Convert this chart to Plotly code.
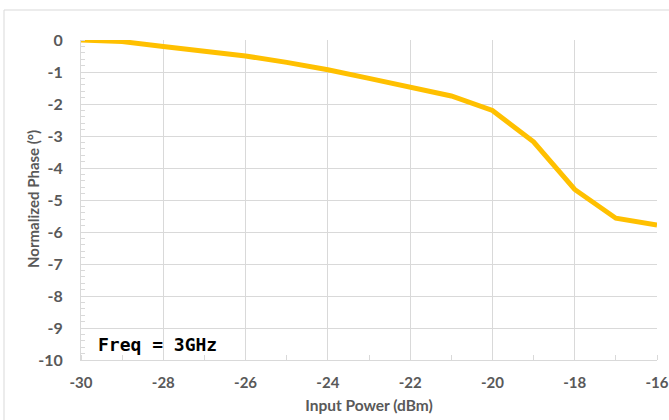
import plotly.graph_objects as go

input_power = [-30, -29, -28, -27, -26, -25, -24, -23, -22, -21, -20, -19, -18, -17, -16]
phase = [0, -0.05, -0.2, -0.35, -0.5, -0.7, -0.93, -1.2, -1.47, -1.75, -2.2, -3.18, -4.67, -5.57, -5.78]

x_ticks = [-30, -28, -26, -24, -22, -20, -18, -16]
y_ticks = [0, -1, -2, -3, -4, -5, -6, -7, -8, -9, -10]

grid = "#d9d9d9"
txt = "#595959"
font_fam = "Lato, 'Open Sans', sans-serif"

W, H = 669, 420
L, R, T, B = 81, 12, 40, 60
pw = W - L - R
ph = H - T - B

fig = go.Figure()
fig.add_trace(go.Scatter(
    x=input_power, y=phase, mode="lines",
    line=dict(color="#FFC000", width=5),
    showlegend=False, hoverinfo="skip",
))

fig.update_layout(
    width=W, height=H,
    margin=dict(l=L, r=R, t=T, b=B, autoexpand=False),
    paper_bgcolor="white", plot_bgcolor="white",
    font=dict(family=font_fam, color=txt),
    xaxis=dict(
        range=[-30, -16], tickvals=x_ticks, ticktext=[str(v) for v in x_ticks],
        automargin=False,
        showgrid=True, gridcolor=grid, gridwidth=1,
        showline=True, linecolor=grid, linewidth=1,
        zeroline=False, ticks="", ticklen=0, ticklabelstandoff=9,
        tickfont=dict(size=15, color=txt, family=font_fam, weight="bold"),
        minor=dict(dtick=1, tick0=-30, ticks="inside", ticklen=5, tickcolor=grid, showgrid=False),
        title=dict(text="Input Power (dBm)", font=dict(size=15.5, color=txt, family=font_fam, weight="bold"), standoff=10),
    ),
    yaxis=dict(
        range=[-10, 0], tickvals=y_ticks, ticktext=[str(v) for v in y_ticks],
        automargin=False,
        showgrid=True, gridcolor=grid, gridwidth=1,
        showline=True, linecolor=grid, linewidth=1,
        zeroline=False, ticks="", ticklen=0, ticklabelstandoff=14,
        tickfont=dict(size=16, color=txt, family=font_fam, weight="bold"),
        minor=dict(dtick=0.2, tick0=0, ticks="inside", ticklen=4, tickcolor=grid, showgrid=False),
    ),
    annotations=[
        dict(
            text="Freq = 3GHz", xref="paper", yref="paper", x=15 / pw, y=16 / ph,
            xanchor="left", yanchor="middle", showarrow=False,
            font=dict(family="DejaVu Sans Mono", size=18, color="black", weight="bold"),
        ),
        dict(
            text="Normalized Phase (°)", xref="paper", yref="paper",
            x=(33 - L) / pw, y=(360 - 199) / ph, xanchor="center", yanchor="middle",
            textangle=-90, showarrow=False,
            font=dict(size=15, color=txt, family=font_fam, weight="bold"),
        ),
    ],
    shapes=[dict(
        type="rect", xref="paper", yref="paper",
        x0=(4 - 81) / pw, x1=(690 - 81) / pw,
        y0=(360 - 440) / ph, y1=(360 - 10) / ph,
        line=dict(color=grid, width=1), fillcolor="rgba(0,0,0,0)", layer="below",
    )],
)

fig.write_html(
    "out.html",
    config={"displayModeBar": False},
    post_script="document.body.style.margin='0';document.body.style.overflow='hidden';",
)
